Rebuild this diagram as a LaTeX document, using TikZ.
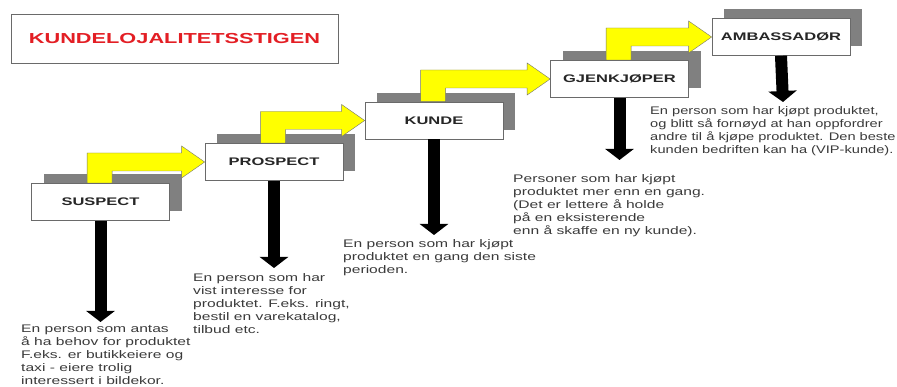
\documentclass[tikz,border=0pt]{standalone}
\usepackage{fontspec}
\setmainfont{Liberation Sans}
\newfontfamily\bodyfont{Liberation Sans}[FakeStretch=1.42]
\newfontfamily\narrowbodyfont{Liberation Sans}[FakeStretch=1.33]
\newfontfamily\labelfont{Liberation Sans}[FakeStretch=1.5]
\newfontfamily\titlefont{Liberation Sans}[FakeStretch=1.5]
\usetikzlibrary{arrows.meta,calc}
\definecolor{shadowgray}{HTML}{808080}
\definecolor{arrowyellow}{HTML}{FFFF00}
\definecolor{titlered}{HTML}{E31E24}
\definecolor{textgray}{HTML}{3A3A3A}
\definecolor{framegray}{HTML}{6A6A6A}
\pgfdeclarelayer{shadowlayer}
\pgfdeclarelayer{yellowlayer}
\pgfsetlayers{shadowlayer,yellowlayer,main}
\newcommand\yellowstep[2]{%
  \begin{pgfonlayer}{yellowlayer}
  \filldraw[steparrow] let \p1=(#1.north west), \p2=(#2.west) in
    (\x1+56pt,\y1) -- (\x1+56pt,\y2+9pt) -- (\x2-23pt,\y2+9pt) --
    (\x2-23pt,\y2+16pt) -- (\p2) -- (\x2-23pt,\y2-16pt) --
    (\x2-23pt,\y2-9pt) -- (\x1+81pt,\y2-9pt) -- (\x1+81pt,\y1) -- cycle;
  \end{pgfonlayer}}
\newcommand\boxshadow[1]{%
  \begin{pgfonlayer}{shadowlayer}
  \node[shadowbox] (#1sh) at ($(#1)+(12,-9)$) {};
  \end{pgfonlayer}}
\begin{document}
\begin{tikzpicture}[x=1pt,y=-1pt,
  stagebox/.style={draw=framegray, fill=white, line width=0.7pt,
    minimum width=138pt, minimum height=37pt, inner sep=0pt,
    font=\labelfont\bfseries\fontsize{11}{13}\selectfont, text=black!85},
  shadowbox/.style={fill=shadowgray, draw=none, minimum width=138pt,
    minimum height=37pt, inner sep=0pt},
  steparrow/.style={fill=arrowyellow, draw=black!55, line width=0.4pt},
  downarrow/.style={draw=black, line width=12pt,
    -{Triangle[width=28pt,length=11pt]}},
  desc/.style={font=\bodyfont\fontsize{11}{13}\selectfont, text=textgray,
    align=left, inner sep=0pt, anchor=north west},
  narrowdesc/.style={desc, font=\narrowbodyfont\fontsize{11}{13}\selectfont},
  titlebox/.style={draw=framegray, line width=0.7pt, fill=white,
    minimum width=327pt, minimum height=49pt, inner sep=0pt,
    font=\titlefont\bfseries\fontsize{14.5}{16}\selectfont, text=titlered}
]
\useasboundingbox (0,0) rectangle (897,387);

\node[titlebox] (title) at (174.5,38.5) {KUNDELOJALITETSSTIGEN};

\node[stagebox] (s) at (100.5,202) {SUSPECT};
\node[stagebox] (p) at (274,162) {PROSPECT};
\node[stagebox] (k) at (434,120.5) {KUNDE};
\node[stagebox] (g) at (619.5,79) {GJENKJØPER};
\node[stagebox] (a) at (781,37) {AMBASSADØR};

\boxshadow{s}
\boxshadow{p}
\boxshadow{k}
\boxshadow{g}
\boxshadow{a}

\yellowstep{s}{p}
\yellowstep{p}{k}
\yellowstep{k}{g}
\yellowstep{g}{a}

\coordinate (se) at (100.5,322);
\coordinate (pe) at (274,268);
\coordinate (ke) at (434,235);
\coordinate (ge) at (619.5,160);
\coordinate (ae) at (783,102);

\draw[downarrow] (s.south) -- (se);
\draw[downarrow] (p.south) -- (pe);
\draw[downarrow] (k.south) -- (ke);
\draw[downarrow] (g.south) -- (ge);
\draw[downarrow] (a.south) -- (ae);

\node[desc] (sd) at (21,324.5) {En person som antas\\å ha behov for produktet\\F.eks. er butikkeiere og\\taxi - eiere trolig\\interessert i bildekor.};
\node[desc] (pd) at (193,273.5) {En person som har\\vist interesse for\\produktet. F.eks. ringt,\\bestil en varekatalog,\\tilbud etc.};
\node[desc] (kd) at (343,239.5) {En person som har kjøpt\\produktet en gang den siste\\perioden.};
\node[desc] (gd) at (513,174.5) {Personer som har kjøpt\\produktet mer enn en gang.\\(Det er lettere å holde\\på en eksisterende\\enn å skaffe en ny kunde).};
\node[narrowdesc] (ad) at (650,106.5) {En person som har kjøpt produktet,\\og blitt så fornøyd at han oppfordrer\\andre til å kjøpe produktet. Den beste\\kunden bedriften kan ha (VIP-kunde).};
\end{tikzpicture}
\end{document}
